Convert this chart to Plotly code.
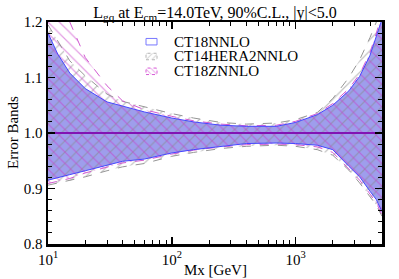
import plotly.graph_objects as go

# ---- data ----
mass = [10, 12, 15, 20, 30, 40, 60, 100, 150, 250, 400, 700, 1000, 1500, 2000, 2700, 3300, 4000, 4500, 5000]

ct18_up = [1.180, 1.142, 1.108, 1.080, 1.056, 1.049, 1.038, 1.027, 1.020, 1.014, 1.012, 1.012, 1.019, 1.033, 1.050, 1.076, 1.102, 1.140, 1.174, 1.205]
ct18_lo = [0.915, 0.920, 0.925, 0.932, 0.942, 0.949, 0.953, 0.964, 0.970, 0.976, 0.981, 0.982, 0.981, 0.978, 0.970, 0.940, 0.921, 0.895, 0.880, 0.858]

ct14_up = [1.195, 1.165, 1.130, 1.103, 1.070, 1.057, 1.047, 1.035, 1.027, 1.019, 1.016, 1.018, 1.024, 1.037, 1.062, 1.100, 1.132, 1.172, 1.200, 1.230]
ct14_lo = [0.906, 0.910, 0.914, 0.921, 0.932, 0.939, 0.945, 0.958, 0.965, 0.972, 0.976, 0.978, 0.976, 0.970, 0.960, 0.933, 0.910, 0.886, 0.870, 0.850]

ct18z_up = [1.290, 1.250, 1.200, 1.136, 1.085, 1.058, 1.042, 1.030, 1.022, 1.016, 1.013, 1.014, 1.021, 1.035, 1.053, 1.080, 1.106, 1.145, 1.180, 1.215]
ct18z_lo = [0.909, 0.913, 0.918, 0.928, 0.939, 0.946, 0.951, 0.962, 0.969, 0.975, 0.979, 0.980, 0.979, 0.975, 0.965, 0.936, 0.915, 0.890, 0.874, 0.853]

central = [1.0] * len(mass)

names = ["CT18NNLO", "CT14HERA2NNLO", "CT18ZNNLO"]
xtick_vals = [10, 100, 1000]
xtick_text = ["10<sup>1</sup>", "10<sup>2</sup>", "10<sup>3</sup>"]
ytick_vals = [0.8, 0.9, 1.0, 1.1, 1.2]
ytick_text = ["0.8", "0.9", "1.0", "1.1", "1.2"]
title_text = "L<sub>gq</sub> at E<sub>cm</sub>=14.0TeV, 90%C.L., |y|<5.0"

FONT = "Liberation Serif, Times New Roman, serif"

# plot-area geometry in screen pixels
W, H = 399, 279
PL, PR, PT, PB = 48, 382, 22, 244

def band(up, lo):
    xs = list(mass) + list(mass[::-1])
    ys = list(up) + list(lo[::-1])
    return xs, ys

fig = go.Figure()

# CT18NNLO solid band
bx, by = band(ct18_up, ct18_lo)
fig.add_trace(go.Scatter(x=bx, y=by, fill="toself", mode="lines",
                         fillcolor="rgb(158,158,236)", line=dict(color="rgba(0,0,0,0)", width=0),
                         showlegend=False, hoverinfo="skip"))
# CT14HERA2 hatch
bx, by = band(ct14_up, ct14_lo)
fig.add_trace(go.Scatter(x=bx, y=by, fill="toself", mode="lines",
                         fillcolor="rgba(0,0,0,0)",
                         fillpattern=dict(shape="/", fgcolor="rgb(135,135,135)", bgcolor="rgba(0,0,0,0)",
                                          size=8, solidity=0.15),
                         line=dict(color="rgba(0,0,0,0)", width=0),
                         showlegend=False, hoverinfo="skip"))
# CT18Z hatch
bx, by = band(ct18z_up, ct18z_lo)
fig.add_trace(go.Scatter(x=bx, y=by, fill="toself", mode="lines",
                         fillcolor="rgba(0,0,0,0)",
                         fillpattern=dict(shape="\\", fgcolor="rgb(200,60,200)", bgcolor="rgba(0,0,0,0)",
                                          size=8, solidity=0.15),
                         line=dict(color="rgba(0,0,0,0)", width=0),
                         showlegend=False, hoverinfo="skip"))

# boundary lines
for up, lo, col, dash in [(ct14_up, ct14_lo, "rgb(150,150,150)", "dash"),
                          (ct18z_up, ct18z_lo, "rgb(210,90,210)", "dash"),
                          (ct18_up, ct18_lo, "rgb(70,70,255)", "solid")]:
    for ys in (up, lo):
        fig.add_trace(go.Scatter(x=mass, y=ys, mode="lines",
                                 line=dict(color=col, width=1, dash=dash),
                                 showlegend=False, hoverinfo="skip"))

# central line
fig.add_trace(go.Scatter(x=mass, y=central, mode="lines",
                         line=dict(color="rgb(130,20,180)", width=2),
                         showlegend=False, hoverinfo="skip"))

# ---- legend drawn on an overlay axis spanning the plot area (0..1) ----
def px_x(x):
    return (x - PL) / (PR - PL)

def px_y(y):
    return (PB - y) / (PB - PT)

rows = [41.7, 56.5, 71.3]
sw_x0, sw_x1, sw_h = 146, 157, 6.5
legend_styles = [
    dict(fillcolor="rgba(255,255,255,1)", line=dict(color="rgb(120,120,255)", width=1)),
    dict(fillcolor="rgba(0,0,0,0)",
         fillpattern=dict(shape="/", fgcolor="rgb(170,170,170)", bgcolor="white", size=4, solidity=0.25),
         line=dict(color="rgb(180,180,180)", width=1, dash="dot")),
    dict(fillcolor="rgba(0,0,0,0)",
         fillpattern=dict(shape="\\", fgcolor="rgb(215,90,215)", bgcolor="white", size=4, solidity=0.25),
         line=dict(color="rgb(215,90,215)", width=1, dash="dot")),
]
annotations = []
for yc, name, st in zip(rows, names, legend_styles):
    x0, x1 = px_x(sw_x0), px_x(sw_x1)
    y0, y1 = px_y(yc + sw_h / 2), px_y(yc - sw_h / 2)
    fig.add_trace(go.Scatter(x=[x0, x1, x1, x0, x0], y=[y0, y0, y1, y1, y0], mode="lines",
                             fill="toself", xaxis="x2", yaxis="y2", showlegend=False,
                             hoverinfo="skip", **st))
    annotations.append(dict(text=name, x=px_x(172), y=px_y(yc), xref="paper", yref="paper",
                            xanchor="left", yanchor="middle", showarrow=False,
                            font=dict(family=FONT, size=15, color="black")))

minor_x = [v * d for d in (10, 100, 1000) for v in range(2, 10) if v * d <= 5000]

axis_common = dict(showline=True, linewidth=2.5, linecolor="black", mirror="allticks",
                   ticks="inside", ticklen=7, tickwidth=1.5, tickcolor="black",
                   showgrid=False, zeroline=False,
                   tickfont=dict(family=FONT, size=15, color="black"))

fig.update_xaxes(type="log", range=[1, 3.69897], tickmode="array",
                 tickvals=xtick_vals, ticktext=xtick_text,
                 minor=dict(tickmode="array", tickvals=minor_x, ticks="inside", ticklen=4,
                            tickwidth=1, tickcolor="black", showgrid=False),
                 **axis_common)
fig.update_yaxes(range=[0.8, 1.2], tickmode="array", tickvals=ytick_vals, ticktext=ytick_text,
                 minor=dict(dtick=0.02, tick0=0.8, ticks="inside", ticklen=4, tickwidth=1,
                            tickcolor="black", showgrid=False),
                 **axis_common)

annotations += [
    dict(text="Mx [GeV]", x=0.5, y=0, xref="paper", yref="paper",
         xanchor="center", yanchor="middle", showarrow=False, yshift=-(270 - PB),
         font=dict(family=FONT, size=15, color="black")),
    dict(text="Error Bands", x=0, y=0.5, xref="paper", yref="paper", textangle=-90,
         xanchor="center", yanchor="middle", showarrow=False, xshift=-(PL - 13),
         font=dict(family=FONT, size=15, color="black")),
]

fig.update_layout(
    width=W, height=H,
    margin=dict(l=PL, r=W - PR, t=PT, b=H - PB, pad=0),
    paper_bgcolor="white", plot_bgcolor="white",
    font=dict(family=FONT, size=15, color="black"),
    title=dict(text=title_text, x=(215 / W), xanchor="center", y=1 - 12 / H, yanchor="middle",
               yref="container", font=dict(family=FONT, size=16, color="black")),
    xaxis2=dict(overlaying="x", range=[0, 1], visible=False, fixedrange=True),
    yaxis2=dict(overlaying="y", range=[0, 1], visible=False, fixedrange=True, anchor="x2"),
    showlegend=False,
    annotations=annotations,
)

fig.write_html("out.html", config={"displayModeBar": False, "staticPlot": True},
               post_script="document.body.style.margin='0px';")
